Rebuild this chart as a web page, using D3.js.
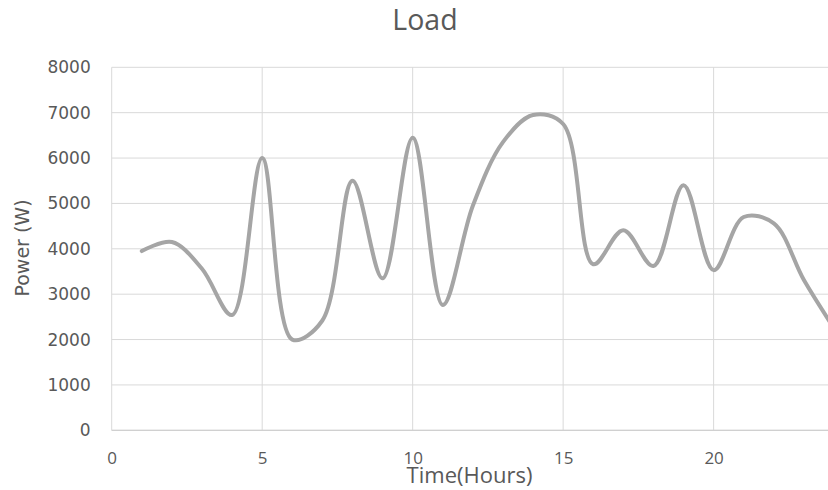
<!DOCTYPE html>
<html>
<head>
<meta charset="utf-8">
<script src="https://cdn.jsdelivr.net/npm/d3@7"></script>
<style>
  html, body { margin: 0; padding: 0; background: #fff; overflow: hidden; }
  svg { display: block; }
</style>
</head>
<body>
<svg id="chart" width="828" height="490"></svg>
<script>
// Hourly load profile
const hours = [1, 2, 3, 4, 5, 6, 7, 8, 9, 10, 11, 12, 13, 14, 15, 16, 17, 18, 19, 20, 21, 22, 23, 24];
const power = [3950, 4150, 3560, 2540, 6000, 2000, 2420, 5500, 3350, 6450, 2760, 4950, 6350, 6950, 6750, 3660, 4410, 3620, 5400, 3530, 4700, 4560, 3310, 2250];
const xTicks = [0, 5, 10, 15, 20];
const yTicks = [0, 1000, 2000, 3000, 4000, 5000, 6000, 7000, 8000];

const svg = d3.select("#chart");
const margin = { left: 111.7, right: 834, top: 67.3, bottom: 430.3 };

const x = d3.scaleLinear().domain([0, 24]).range([margin.left, margin.right]);
const y = d3.scaleLinear().domain([0, 8000]).range([margin.bottom, margin.top]);

const grid = "#d9d9d9";
const text = "#595959";

// horizontal gridlines
svg.append("g")
  .selectAll("line")
  .data(yTicks)
  .join("line")
  .attr("x1", margin.left).attr("x2", margin.right)
  .attr("y1", d => y(d)).attr("y2", d => y(d))
  .attr("stroke", grid).attr("stroke-width", 1);

// vertical gridlines
svg.append("g")
  .selectAll("line")
  .data(xTicks)
  .join("line")
  .attr("x1", d => x(d)).attr("x2", d => x(d))
  .attr("y1", margin.top).attr("y2", margin.bottom)
  .attr("stroke", grid).attr("stroke-width", 1);

// y axis labels
const yAxis = svg.append("g")
  .attr("transform", `translate(${margin.left - 21},0)`)
  .call(d3.axisLeft(y).tickValues(yTicks).tickFormat(d3.format("d")).tickSize(0).tickPadding(0));
yAxis.select(".domain").remove();
yAxis.selectAll("text")
  .attr("fill", text)
  .style("font-family", "DejaVu Sans, Verdana, sans-serif")
  .style("font-size", "17px");

// x axis labels
const xAxis = svg.append("g")
  .attr("transform", `translate(0,${margin.bottom + 22})`)
  .call(d3.axisBottom(x).tickValues(xTicks).tickFormat(d3.format("d")).tickSize(0).tickPadding(0));
xAxis.select(".domain").remove();
xAxis.selectAll("text")
  .attr("fill", text)
  .style("font-family", "Open Sans, sans-serif")
  .style("font-size", "17px");

// bottom axis line
svg.append("line")
  .attr("x1", margin.left).attr("x2", margin.right)
  .attr("y1", y(0)).attr("y2", y(0))
  .attr("stroke", "#d0d0d0").attr("stroke-width", 1.2);

// load line
const line = d3.line()
  .x((d, i) => x(hours[i]))
  .y(d => y(d))
  .curve(d3.curveCatmullRom.alpha(0.5));

svg.append("path")
  .datum(power)
  .attr("d", line)
  .attr("fill", "none")
  .attr("stroke", "#a5a5a5")
  .attr("stroke-width", 4)
  .attr("stroke-linejoin", "round")
  .attr("stroke-linecap", "round");

// title
svg.append("text")
  .attr("x", 425).attr("y", 30)
  .attr("text-anchor", "middle")
  .attr("fill", text)
  .style("font-family", "Open Sans, sans-serif")
  .style("font-size", "28.5px")
  .text("Load");

// axis titles
svg.append("text")
  .attr("x", 469.5).attr("y", 483)
  .attr("text-anchor", "middle")
  .attr("fill", text)
  .style("font-family", "Open Sans, sans-serif")
  .style("font-size", "22px")
  .text("Time(Hours)");

svg.append("text")
  .attr("transform", "translate(29,248) rotate(-90)")
  .attr("text-anchor", "middle")
  .attr("fill", text)
  .style("font-family", "DejaVu Sans, Verdana, sans-serif")
  .style("font-size", "19px")
  .text("Power (W)");
</script>
</body>
</html>
